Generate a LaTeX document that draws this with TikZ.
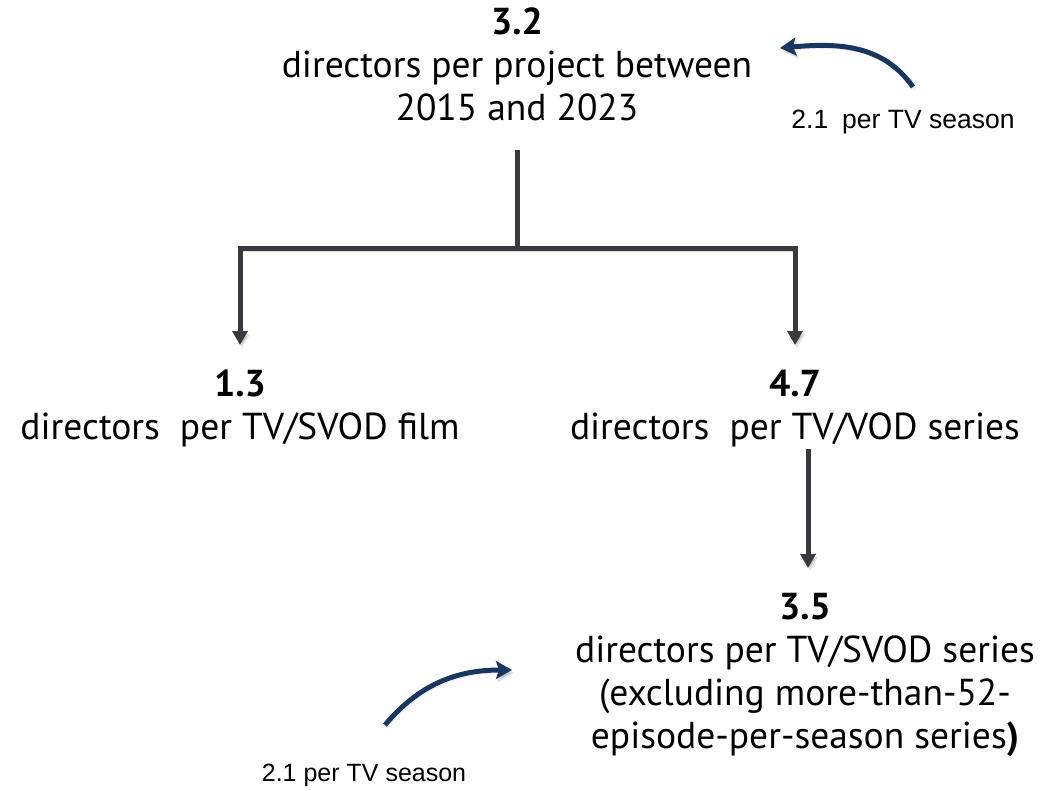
\documentclass[tikz,border=0pt]{standalone}
\usepackage{fontspec}
\setmainfont{PT Sans}
\newfontfamily\arialf{Liberation Sans}
\usetikzlibrary{arrows.meta}
\definecolor{connc}{RGB}{58,58,62}
\definecolor{navyc}{RGB}{23,55,94}
\tikzset{
  stat/.style={align=center, inner sep=0pt, font=\fontsize{37.5}{43}\selectfont, text=black},
  note/.style={inner sep=0pt, font=\arialf\fontsize{25}{30}\selectfont, text=black},
  softshadow/.style={preaction={draw=black, draw opacity=0.12, fill opacity=0.12, transform canvas={shift={(2pt,-3pt)}}}},
  trunk/.style={draw=connc, line width=5pt, softshadow},
  connarrow/.style={draw=connc, line width=5pt, softshadow, -{Triangle[width=15pt,length=14pt]}},
  curvearrow/.style={draw=navyc, line width=5pt, softshadow, line cap=butt, -{Stealth[width=18pt,length=16pt,inset=3pt]}},
}
\begin{document}
\begin{tikzpicture}[x=1pt,y=1pt]
\useasboundingbox (0,0) rectangle (1063,-790);
% statistic nodes
\node[stat, anchor=north] (top) at (517,-8) {\textbf{3.2}\\directors per project between\\2015 and 2023};
\node[stat, anchor=north] (film) at (240,-370) {\textbf{1.3}\\directors\ \ per TV/SVOD film};
\node[stat, anchor=north] (vod) at (795,-370) {\textbf{4.7}\\directors\ \ per TV/VOD series};
\node[stat, anchor=north] (svod) at (805,-593) {\textbf{3.5}\\directors per TV/SVOD series\\(excluding more-than-52-\\episode-per-season series\textbf{)}};
% small notes
\node[note, font=\arialf\fontsize{26.5}{30}\selectfont] (s1) at (903,-122) {2.1\hspace{14pt}per TV season};
\node[note] (s2) at (364,-775) {2.1 per TV season};
% tree connectors
\coordinate (t0) at (517,-150);
\coordinate (j) at (517,-248);
\draw[trunk] (t0) -- (j);
\draw[connarrow, shorten >=25pt] (j) -| (film.north);
\draw[connarrow, shorten >=25pt] (j) -| (vod.north);
\draw[connarrow, shorten <=2pt, shorten >=25pt] ([xshift=13pt]vod.south) -- ([xshift=3pt]svod.north);
% curved arrows
\coordinate (c1s) at (913,-87);
\coordinate (c1e) at (780,-48);
\draw[curvearrow] (c1s) to[out=125,in=5] (c1e);
\coordinate (c2s) at (385,-725);
\coordinate (c2e) at (512,-670);
\draw[curvearrow] (c2s) to[out=50,in=180] (c2e);
\end{tikzpicture}
\end{document}
